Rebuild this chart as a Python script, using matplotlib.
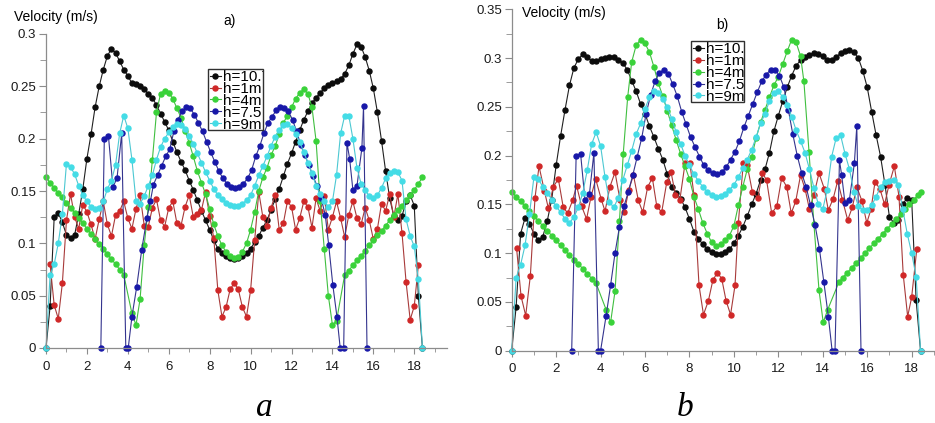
import numpy as np
import matplotlib
matplotlib.use("Agg")
from matplotlib import pyplot as plt
from matplotlib.ticker import MultipleLocator, FuncFormatter
from matplotlib.patches import Rectangle
from matplotlib.transforms import Bbox, TransformedBbox

plt.rcParams['font.family'] = ['Liberation Sans', 'DejaVu Sans']

# stations across the section, every 0.2 m (0 .. 18.4)
x_grid = np.round(np.arange(0, 18.41, 0.2), 1)

labels = ["h=10.7", "h=1m", "h=4m", "h=7.5", "h=9m"]

# ---------------- case a ----------------
black_a = [0.0, 0.04, 0.125, 0.129, 0.12, 0.108, 0.105, 0.108, 0.128, 0.152,
           0.181, 0.204, 0.230, 0.250, 0.266, 0.279, 0.286, 0.282, 0.274, 0.266,
           0.260, 0.253, 0.252, 0.250, 0.247, 0.243, 0.239, 0.232, 0.224, 0.216,
           0.208, 0.197, 0.187, 0.178, 0.170, 0.160, 0.151, 0.141, 0.131, 0.122,
           0.113, 0.103, 0.095, 0.091, 0.088, 0.086, 0.085, 0.086, 0.088, 0.091,
           0.095, 0.101, 0.107, 0.115, 0.122, 0.132, 0.142, 0.152, 0.164, 0.176,
           0.186, 0.197, 0.208, 0.218, 0.226, 0.234, 0.239, 0.244, 0.248, 0.251,
           0.253, 0.255, 0.257, 0.262, 0.270, 0.281, 0.290, 0.288, 0.278, 0.265,
           0.248, 0.225, 0.198, 0.169, 0.143, 0.126, 0.122, 0.126, 0.140, 0.146,
           0.136, 0.05, 0.0]

red_a_x = x_grid[1:-1]
red_a = [0.080, 0.041, 0.028, 0.062, 0.122, 0.147, 0.125, 0.114, 0.137, 0.130,
         0.118, 0.104, 0.123, 0.140, 0.118, 0.107, 0.127, 0.131, 0.140, 0.124,
         0.114, 0.133, 0.146, 0.117, 0.116, 0.134, 0.142, 0.122, 0.116, 0.134,
         0.140, 0.119, 0.117, 0.135, 0.146, 0.125, 0.128, 0.132, 0.149, 0.126,
         0.105, 0.055, 0.030, 0.039, 0.056, 0.062, 0.056, 0.039, 0.030, 0.055,
         0.103, 0.149, 0.125, 0.117, 0.134, 0.146, 0.113, 0.119, 0.140, 0.135,
         0.113, 0.124, 0.140, 0.135, 0.115, 0.143, 0.131, 0.145, 0.113, 0.125,
         0.140, 0.124, 0.106, 0.127, 0.140, 0.124, 0.118, 0.134, 0.122, 0.104,
         0.114, 0.138, 0.131, 0.147, 0.125, 0.147, 0.110, 0.063, 0.027, 0.040,
         0.079]

green_a_x = ([0.0, 0.2, 0.4, 0.6, 0.8, 1.0, 1.2, 1.4, 1.6, 1.8, 2.0, 2.2, 2.4, 2.6,
              2.8, 3.0, 3.2, 3.4, 3.6, 3.8]
             + [4.2, 4.4, 4.6, 4.8, 5.0, 5.2, 5.4, 5.6, 5.8, 6.0, 6.2, 6.4, 6.6, 6.8,
                7.0, 7.2, 7.4, 7.6, 7.8, 8.0, 8.2, 8.4, 8.6, 8.8, 9.0, 9.2, 9.4, 9.6,
                9.8, 10.0, 10.2, 10.4, 10.6, 10.8, 11.0, 11.2, 11.4, 11.6, 11.8, 12.0,
                12.2, 12.4, 12.6, 12.8, 13.0, 13.2, 13.4, 13.6, 13.8, 14.0, 14.2]
             + [14.6, 14.8, 15.0, 15.2, 15.4, 15.6, 15.8, 16.0, 16.2, 16.4, 16.6, 16.8,
                17.0, 17.2, 17.4, 17.6, 17.8, 18.0, 18.2, 18.4])
green_a = ([0.163, 0.158, 0.153, 0.148, 0.144, 0.139, 0.134, 0.129, 0.124, 0.119,
            0.114, 0.109, 0.104, 0.099, 0.095, 0.090, 0.085, 0.080, 0.075, 0.070]
           + [0.033, 0.022, 0.047, 0.098, 0.135, 0.180, 0.225, 0.243, 0.246, 0.244,
              0.238, 0.229, 0.220, 0.207, 0.196, 0.183, 0.169, 0.158, 0.147, 0.133,
              0.118, 0.107, 0.098, 0.092, 0.088, 0.086, 0.087, 0.092, 0.100, 0.113,
              0.130, 0.150, 0.163, 0.172, 0.184, 0.193, 0.204, 0.215, 0.222, 0.230,
              0.238, 0.244, 0.247, 0.243, 0.230, 0.198, 0.140, 0.095, 0.050, 0.022,
              0.026]
           + [0.070, 0.074, 0.079, 0.084, 0.088, 0.093, 0.098, 0.103, 0.108, 0.112,
              0.117, 0.122, 0.127, 0.132, 0.136, 0.141, 0.146, 0.151, 0.157, 0.163])

blue_a_x = ([2.68, 2.85, 3.05, 3.27, 3.47, 3.7, 3.9, 4.02, 4.2, 4.43, 4.68, 4.93, 5.1]
            + [5.25, 5.45, 5.65, 5.85, 6.05, 6.25, 6.45, 6.65, 6.85, 7.05, 7.25, 7.45,
               7.65, 7.85, 8.05, 8.25, 8.45, 8.65, 8.85, 9.05, 9.25, 9.45, 9.65, 9.85,
               10.05, 10.25, 10.45, 10.65, 10.85, 11.05, 11.25, 11.45, 11.65, 11.85,
               12.05, 12.25, 12.45, 12.65, 12.85, 13.05, 13.25, 13.45, 13.65]
            + [13.82, 14.02, 14.22, 14.38, 14.55, 14.71, 14.84, 15.0, 15.2, 15.44,
               15.52, 15.69])
blue_a = ([0.0, 0.2, 0.203, 0.154, 0.162, 0.205, 0.0, 0.0, 0.03, 0.058, 0.094, 0.124,
           0.14]
          + [0.156, 0.165, 0.174, 0.183, 0.19, 0.207, 0.218, 0.226, 0.23, 0.229, 0.223,
             0.215, 0.207, 0.197, 0.187, 0.178, 0.169, 0.162, 0.157, 0.154, 0.153,
             0.154, 0.157, 0.162, 0.17, 0.183, 0.193, 0.205, 0.215, 0.221, 0.227,
             0.23, 0.229, 0.226, 0.218, 0.207, 0.194, 0.184, 0.175, 0.164, 0.155,
             0.143, 0.127]
          + [0.098, 0.06, 0.03, 0.0, 0.0, 0.196, 0.181, 0.151, 0.155, 0.191, 0.231, 0.0])

cyan_a = [0.0, 0.07, 0.08, 0.1, 0.128, 0.176, 0.173, 0.166, 0.155, 0.146,
          0.14, 0.135, 0.133, 0.134, 0.14, 0.152, 0.16, 0.175, 0.205, 0.222,
          0.21, 0.18, 0.14, 0.138, 0.145, 0.155, 0.165, 0.18, 0.192, 0.2,
          0.206, 0.211, 0.214, 0.213, 0.209, 0.203, 0.195, 0.186, 0.177, 0.168,
          0.16, 0.152, 0.146, 0.142, 0.139, 0.137, 0.136,
          0.136, 0.138, 0.141, 0.146, 0.155, 0.165, 0.174, 0.183, 0.193, 0.202,
          0.208, 0.213, 0.214, 0.21, 0.204, 0.197, 0.187, 0.177, 0.167, 0.155,
          0.147, 0.14, 0.135, 0.14, 0.165, 0.205, 0.222, 0.222, 0.2, 0.172,
          0.157, 0.151, 0.145, 0.143, 0.146, 0.153, 0.162, 0.167, 0.169, 0.168,
          0.16, 0.123, 0.107, 0.097, 0.066, 0.0]

# ---------------- case b ----------------
black_b = [0.0, 0.045, 0.12, 0.136, 0.13, 0.12, 0.113, 0.117, 0.133, 0.155,
           0.19, 0.22, 0.247, 0.272, 0.29, 0.299, 0.304, 0.301, 0.297, 0.297,
           0.299, 0.300, 0.301, 0.301, 0.298, 0.295, 0.288, 0.277, 0.266, 0.253,
           0.243, 0.23, 0.219, 0.207, 0.196, 0.181, 0.168, 0.162, 0.156, 0.147,
           0.135, 0.122, 0.115, 0.109, 0.104, 0.101, 0.099, 0.099, 0.101, 0.104,
           0.11, 0.118, 0.127, 0.138, 0.15, 0.161, 0.175, 0.186, 0.203, 0.225,
           0.241, 0.256, 0.27, 0.282, 0.292, 0.298, 0.301, 0.303, 0.305, 0.304,
           0.302, 0.298, 0.298, 0.301, 0.305, 0.307, 0.308, 0.306, 0.3, 0.287,
           0.27, 0.245, 0.221, 0.199, 0.17, 0.137, 0.131, 0.134, 0.15, 0.157,
           0.155, 0.052, 0.0]

red_b_x = [0.22, 0.42, 0.63, 0.84, 1.05, 1.23, 1.47, 1.65, 1.87, 2.1,
           2.32, 2.52, 2.74, 2.92, 3.15, 3.37, 3.57, 3.78, 4.02, 4.2,
           4.42, 4.65, 4.87, 5.07, 5.27, 5.48, 5.7, 5.9, 6.12, 6.33,
           6.53, 6.75, 6.98, 7.17, 7.37, 7.57, 7.8, 8.02, 8.2, 8.43,
           8.63, 8.85, 9.05, 9.25, 9.45, 9.65, 9.85, 10.05, 10.2, 10.42,
           10.6, 10.83, 11.08, 11.28, 11.47, 11.7, 11.93, 12.15, 12.38, 12.58,
           12.78, 13.0, 13.2, 13.4, 13.6, 13.83, 14.07, 14.25, 14.47, 14.67,
           14.88, 15.12, 15.33, 15.53, 15.77, 15.98, 16.17, 16.35, 16.57, 16.78,
           16.98, 17.22, 17.43, 17.62, 17.82, 18.0, 18.23]
red_b = [0.105, 0.056, 0.036, 0.077, 0.157, 0.189, 0.164, 0.146, 0.168, 0.176,
         0.147, 0.141, 0.154, 0.169, 0.148, 0.135, 0.158, 0.176, 0.156, 0.143,
         0.168, 0.183, 0.155, 0.142, 0.165, 0.18, 0.154, 0.142, 0.168, 0.177,
         0.148, 0.142, 0.173, 0.183, 0.16, 0.155, 0.192, 0.192, 0.16, 0.067,
         0.037, 0.051, 0.072, 0.08, 0.074, 0.051, 0.037, 0.067, 0.131, 0.192,
         0.19, 0.163, 0.157, 0.182, 0.175, 0.141, 0.148, 0.177, 0.168, 0.141,
         0.153, 0.18, 0.166, 0.145, 0.16, 0.182, 0.166, 0.144, 0.156, 0.174,
         0.155, 0.134, 0.147, 0.168, 0.153, 0.131, 0.145, 0.173, 0.166, 0.15,
         0.17, 0.189, 0.158, 0.078, 0.035, 0.055, 0.104]

green_b_x = ([0.0, 0.2, 0.4, 0.6, 0.8, 1.0, 1.2, 1.4, 1.6, 1.8, 2.0, 2.2, 2.4, 2.6,
              2.8, 3.0, 3.2, 3.4, 3.6, 3.8]
             + [4.25, 4.45, 4.65, 4.85, 5.02, 5.22, 5.4, 5.6, 5.8, 6.0, 6.2, 6.4, 6.6,
                6.8, 7.0, 7.2, 7.4, 7.6, 7.8, 8.0, 8.2, 8.4, 8.6, 8.8, 9.0, 9.2, 9.4,
                9.6, 9.8, 10.0, 10.2, 10.4, 10.6, 10.8, 11.0, 11.2, 11.4, 11.6, 11.8,
                12.0, 12.2, 12.4, 12.6, 12.8, 13.0, 13.15, 13.38, 13.6, 13.83, 14.02,
                14.22]
             + [14.72, 14.9, 15.1, 15.3, 15.5, 15.7, 15.9, 16.1, 16.3, 16.5, 16.7,
                16.9, 17.1, 17.3, 17.5, 17.7, 17.9, 18.1, 18.3, 18.42])
green_b = ([0.163, 0.158, 0.153, 0.148, 0.143, 0.138, 0.133, 0.128, 0.123, 0.118,
            0.113, 0.108, 0.103, 0.098, 0.093, 0.089, 0.084, 0.079, 0.074, 0.069]
           + [0.042, 0.029, 0.061, 0.133, 0.202, 0.26, 0.296, 0.313, 0.319, 0.315,
              0.306, 0.291, 0.274, 0.261, 0.246, 0.231, 0.216, 0.202, 0.189, 0.176,
              0.158, 0.145, 0.131, 0.12, 0.111, 0.107, 0.109, 0.113, 0.118, 0.128,
              0.149, 0.168, 0.186, 0.199, 0.218, 0.234, 0.247, 0.26, 0.272, 0.281,
              0.294, 0.307, 0.319, 0.316, 0.302, 0.276, 0.204, 0.13, 0.062, 0.029,
              0.042]
           + [0.07, 0.075, 0.08, 0.085, 0.09, 0.095, 0.1, 0.105, 0.11, 0.115, 0.12,
              0.125, 0.13, 0.135, 0.14, 0.145, 0.15, 0.155, 0.16, 0.163])

blue_b_x = ([2.7, 2.9, 3.1, 3.3, 3.5, 3.7, 3.9, 4.0, 4.25, 4.45, 4.65, 4.85]
            + [5.05, 5.25, 5.45, 5.65, 5.85, 6.05, 6.25, 6.45, 6.65, 6.85, 7.05, 7.25,
               7.45, 7.65, 7.85, 8.05, 8.25, 8.45, 8.65, 8.85, 9.05, 9.25, 9.45, 9.65,
               9.85, 10.05, 10.25, 10.45, 10.65, 10.85, 11.05, 11.25, 11.45, 11.65,
               11.85, 12.05, 12.25, 12.45, 12.65, 12.85, 13.05, 13.25, 13.45, 13.65,
               13.85]
            + [14.05, 14.25, 14.42, 14.55, 14.75, 14.85, 15.0, 15.2, 15.42, 15.53,
               15.72])
blue_b = ([0.0, 0.2, 0.202, 0.154, 0.161, 0.203, 0.0, 0.0, 0.036, 0.067, 0.1, 0.127]
          + [0.148, 0.163, 0.18, 0.199, 0.218, 0.243, 0.262, 0.276, 0.285, 0.288,
             0.284, 0.273, 0.261, 0.245, 0.232, 0.219, 0.209, 0.199, 0.19, 0.185,
             0.182, 0.181, 0.183, 0.188, 0.196, 0.204, 0.215, 0.229, 0.241, 0.253,
             0.265, 0.276, 0.283, 0.288, 0.288, 0.282, 0.27, 0.247, 0.222, 0.2,
             0.182, 0.168, 0.149, 0.129, 0.104]
          + [0.07, 0.035, 0.0, 0.0, 0.195, 0.18, 0.151, 0.155, 0.192, 0.23, 0.0])

cyan_b = [0.0, 0.075, 0.088, 0.108, 0.14, 0.178, 0.176, 0.168, 0.162, 0.155,
          0.148, 0.142, 0.135, 0.131, 0.137, 0.147, 0.162, 0.185, 0.212, 0.224,
          0.21, 0.178, 0.152, 0.147, 0.157, 0.175, 0.19, 0.205, 0.222, 0.233,
          0.248, 0.26, 0.266, 0.264, 0.258, 0.25, 0.238, 0.224, 0.212, 0.2,
          0.19, 0.181, 0.174, 0.168, 0.163, 0.16, 0.158,
          0.159, 0.161, 0.165, 0.17, 0.178, 0.187, 0.196, 0.206, 0.219, 0.233,
          0.243, 0.256, 0.264, 0.266, 0.26, 0.252, 0.24, 0.226, 0.215, 0.203,
          0.186, 0.167, 0.15, 0.145, 0.165, 0.199, 0.218, 0.221, 0.202, 0.186,
          0.163, 0.148, 0.144, 0.144, 0.149, 0.158, 0.168, 0.173, 0.174, 0.175,
          0.17, 0.145, 0.12, 0.1, 0.076, 0.0]

line_cols = ['#202020', '#a83a3a', '#40bf40', '#34348e', '#4cc8d2']
mark_cols = ['#0c0c0c', '#d02828', '#3ad23a', '#1818a8', '#44dce6']


def draw_panel(ax, series, ymax, xmax, leg_box):
    handles = []
    for (xs, ys), lc, mc, lab in zip(series, line_cols, mark_cols, labels):
        h, = ax.plot(xs, ys, '-', color=lc, lw=0.8, marker='o', ms=3.6,
                     mfc=mc, mec=mc, label=lab, clip_on=False)
        handles.append(h)
    ax.set_xlim(0, xmax)
    ax.set_ylim(0, ymax)
    for s in ['top', 'right']:
        ax.spines[s].set_visible(False)
    for s in ['left', 'bottom']:
        ax.spines[s].set_color('#8c8c8c')
        ax.spines[s].set_linewidth(0.9)
    ax.xaxis.set_major_locator(MultipleLocator(2))
    ax.xaxis.set_minor_locator(MultipleLocator(1))
    ax.yaxis.set_major_locator(MultipleLocator(0.05))
    ax.yaxis.set_minor_locator(MultipleLocator(0.025))
    ax.yaxis.set_major_formatter(FuncFormatter(lambda v, p: '%g' % round(v, 3)))
    ax.tick_params(which='both', direction='out', color='#8c8c8c', labelsize=9.5,
                   labelcolor='#1a1a1a')
    ax.tick_params(axis='y', which='major', length=5, pad=2)
    ax.tick_params(axis='y', which='minor', length=4)
    ax.tick_params(axis='x', which='major', length=4, pad=5)
    ax.tick_params(axis='x', which='minor', length=3)

    x0, y0, x1, y1 = leg_box
    leg = ax.legend(handles, labels, loc='upper left', bbox_to_anchor=(x0 + 0.004, y1 - 0.004),
                    frameon=False, fontsize=11, handlelength=0.75, handletextpad=0.1,
                    borderpad=0, borderaxespad=0, labelspacing=-0.14)
    box = Rectangle((x0, y0), x1 - x0, y1 - y0, transform=ax.transAxes, fill=False,
                    edgecolor='#303030', lw=1.0, zorder=6)
    ax.add_patch(box)
    clip = TransformedBbox(Bbox([[x0, y0], [x1, y1]]), ax.transAxes)
    for t in leg.get_texts():
        t.set_clip_box(clip)
        t.set_clip_on(True)


fig = plt.figure(figsize=(9.35, 4.23), dpi=100)

ax_a = fig.add_axes([46 / 935, 1 - 348 / 423, 401 / 935, 314 / 423])
series_a = [(x_grid, black_a), (red_a_x, red_a), (green_a_x, green_a),
            (blue_a_x, blue_a), (x_grid, cyan_a)]
draw_panel(ax_a, series_a, 0.3, 19.6, (0.404, 0.694, 0.541, 0.889))

ax_b = fig.add_axes([511.7 / 935, 1 - 350.7 / 423, 423.3 / 935, 341.4 / 423])
series_b = [(x_grid, black_b), (red_b_x, red_b), (green_b_x, green_b),
            (blue_b_x, blue_b), (x_grid, cyan_b)]
draw_panel(ax_b, series_b, 0.35, 19.05, (0.4236, 0.7285, 0.5488, 0.9071))

fig.text(14 / 935, 1 - 17 / 423, 'Velocity (m/s)', ha='left', va='center', fontsize=10)
fig.text(522 / 935, 1 - 13 / 423, 'Velocity (m/s)', ha='left', va='center', fontsize=10)
fig.text(230 / 935, 1 - 21 / 423, 'a)', ha='center', va='center', fontsize=10)
fig.text(722 / 935, 1 - 25 / 423, 'b)', ha='center', va='center', fontsize=10)
fig.text(264 / 935, 1 - 416 / 423, 'a', ha='center', va='baseline', fontsize=24,
         family='Liberation Serif', style='italic')
fig.text(685 / 935, 1 - 416 / 423, 'b', ha='center', va='baseline', fontsize=24,
         family='Liberation Serif', style='italic')

fig.savefig('out.png', dpi=100)
